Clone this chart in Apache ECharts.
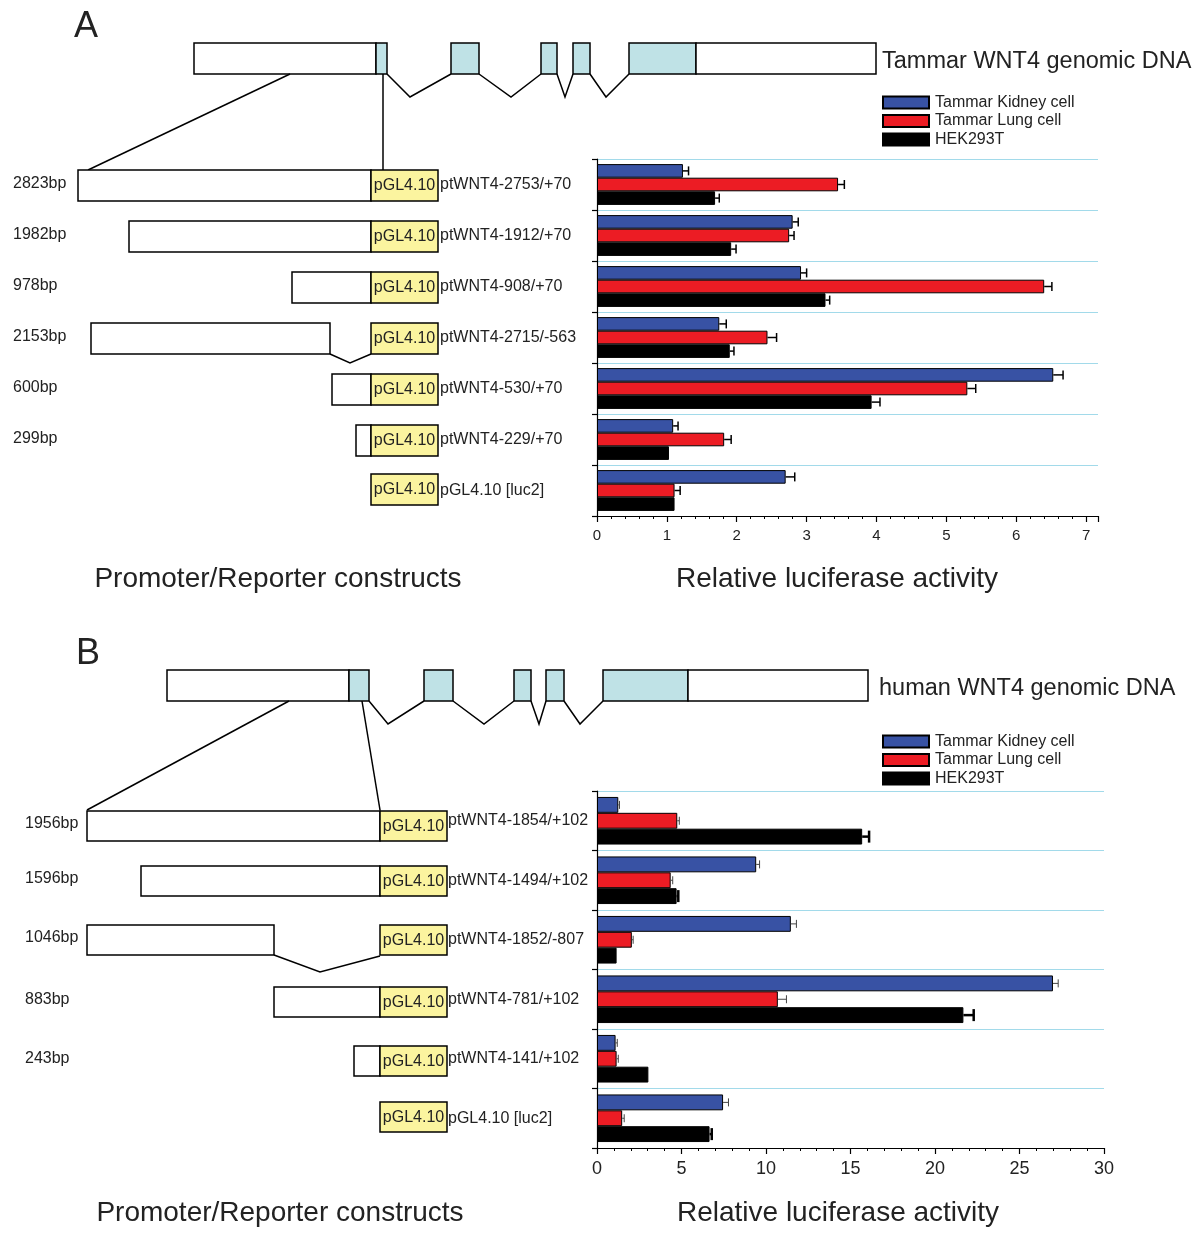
<!DOCTYPE html>
<html><head><meta charset="utf-8">
<script src="https://cdn.jsdelivr.net/npm/echarts@6/dist/echarts.min.js"></script>
<style>html,body{margin:0;padding:0;background:#fff}#c{width:1200px;height:1259px}</style>
</head><body><div id="c"></div>
<script>
// ---------- DATA ----------
const seriesNames = ['Tammar Kidney cell', 'Tammar Lung cell', 'HEK293T'];

const categoriesA = ['ptWNT4-2753/+70','ptWNT4-1912/+70','ptWNT4-908/+70','ptWNT4-2715/-563','ptWNT4-530/+70','ptWNT4-229/+70','pGL4.10 [luc2]'];
const kidneyA    = [1.23, 2.80, 2.92, 1.75, 6.53, 1.09, 2.70];
const kidneyErrA = [0.08, 0.08, 0.08, 0.10, 0.14, 0.07, 0.13];
const lungA      = [3.45, 2.75, 6.40, 2.44, 5.30, 1.82, 1.11];
const lungErrA   = [0.09, 0.07, 0.11, 0.13, 0.12, 0.10, 0.08];
const hekA       = [1.69, 1.92, 3.27, 1.90, 3.93, 1.03, 1.11];
const hekErrA    = [0.06, 0.07, 0.06, 0.06, 0.12, 0, 0];
const xTicksA    = [0, 1, 2, 3, 4, 5, 6, 7];
const bpLabelsA  = ['2823bp','1982bp','978bp','2153bp','600bp','299bp'];

const categoriesB = ['ptWNT4-1854/+102','ptWNT4-1494/+102','ptWNT4-1852/-807','ptWNT4-781/+102','ptWNT4-141/+102','pGL4.10 [luc2]'];
const kidneyB    = [1.26, 9.42, 11.47, 26.98, 1.10, 7.46];
const kidneyErrB = [0.07, 0.20, 0.33, 0.31, 0.10, 0.32];
const lungB      = [4.75, 4.36, 2.06, 10.70, 1.16, 1.49];
const lungErrB   = [0.12, 0.12, 0.08, 0.51, 0.10, 0.12];
const hekB       = [15.69, 4.71, 1.16, 21.68, 3.04, 6.66];
const hekErrB    = [0.41, 0.10, 0, 0.61, 0, 0.13];
const xTicksB    = [0, 5, 10, 15, 20, 25, 30];
const bpLabelsB  = ['1956bp','1596bp','1046bp','883bp','243bp'];

// ---------- STYLE / LAYOUT ----------
const FONT = "'Liberation Sans', Arial, Helvetica, sans-serif";
const colors = ['#3852a4', '#ec1c24', '#000000'];
const CYAN = '#bfe2e6';
const YELLOW = '#fbf49f';
const GRIDLINE = '#a2daea';
const BAND_FILL = 0.8; // 1 - barCategoryGap

function errSeries(vals, errs, idx, axisIdx, lw, color, cap) {
  const data = [];
  vals.forEach((v, i) => { if (errs[i] > 0) data.push([v, i, v + errs[i]]); });
  return {
    type: 'custom', xAxisIndex: axisIdx, yAxisIndex: axisIdx, silent: true, z: 10,
    data: data, encode: { x: [0, 2], y: 1 },
    renderItem(params, api) {
      const cat = api.value(1);
      const p0 = api.coord([api.value(0), cat]);
      const p1 = api.coord([api.value(2), cat]);
      const band = api.size([0, 1])[1];
      const bw = band * BAND_FILL / 3;
      const y = p0[1] + (idx - 1) * bw;
      const h = cap / 2;
      return { type: 'group', children: [
        { type: 'line', shape: { x1: p0[0], y1: y, x2: p1[0], y2: y }, style: { stroke: color, lineWidth: lw } },
        { type: 'line', shape: { x1: p1[0], y1: y - h, x2: p1[0], y2: y + h }, style: { stroke: color, lineWidth: lw } }
      ]};
    }
  };
}

function barSeries(name, vals, idx, axisIdx) {
  return {
    type: 'bar', name: name, xAxisIndex: axisIdx, yAxisIndex: axisIdx, data: vals,
    barCategoryGap: '20%', barGap: '0%',
    itemStyle: { color: colors[idx], borderColor: '#000', borderWidth: 1 },
    emphasis: { disabled: true }
  };
}

function xAxisCfg(gridIdx, ticks, max, labelSize, margin) {
  const interval = ticks[1] - ticks[0];
  return {
    type: 'value', gridIndex: gridIdx, min: ticks[0], max: max, interval: interval,
    axisLine: { show: true, lineStyle: { color: '#000', width: 1.2 } },
    axisTick: { show: true, length: 6, lineStyle: { color: '#000', width: 1.2 } },
    minorTick: { show: true, splitNumber: 5, length: 3, lineStyle: { color: '#000', width: 1 } },
    splitLine: { show: false },
    axisLabel: { fontFamily: FONT, fontSize: labelSize, color: '#222', margin: margin, showMaxLabel: ticks[ticks.length - 1] === max,
      formatter: v => (ticks.indexOf(v) >= 0 ? String(v) : '') }
  };
}

function yAxisCfg(gridIdx, cats, margin) {
  return {
    type: 'category', gridIndex: gridIdx, data: cats, inverse: true,
    axisLine: { show: true, lineStyle: { color: '#000', width: 1.2 } },
    axisTick: { show: true, length: 5, lineStyle: { color: '#000', width: 1.2 } },
    splitLine: { show: true, lineStyle: { color: GRIDLINE, width: 1.2 } },
    axisLabel: { align: 'left', margin: margin, fontFamily: FONT, fontSize: 16, color: '#222' }
  };
}

// ---------- DIAGRAM GRAPHICS ----------
const g = [];
function txt(x, y, s, size, align, extra) {
  g.push(Object.assign({ type: 'text', x: x, y: y, silent: true,
    style: { text: s, fontFamily: FONT, fontSize: size, fill: '#222', align: align || 'left', verticalAlign: 'middle' } }, extra || {}));
}
function rect(x1, y1, x2, y2, fill) {
  g.push({ type: 'rect', silent: true, shape: { x: x1, y: y1, width: x2 - x1, height: y2 - y1 },
    style: { fill: fill, stroke: '#000', lineWidth: 1.5 } });
}
function poly(pts, lw) {
  g.push({ type: 'polyline', silent: true, shape: { points: pts }, style: { stroke: '#000', lineWidth: lw || 1.5, fill: null } });
}

function gene(top, bot, vy, leftW, exons, rightW) {
  rect(leftW[0], top, leftW[1], bot, '#fff');
  exons.forEach((e, i) => {
    rect(e[0], top, e[1], bot, CYAN);
    if (i < exons.length - 1) {
      const nx = exons[i + 1][0];
      poly([[e[1], bot], [e[2], vy], [nx, bot]]);
    }
  });
  rect(rightW[0], top, rightW[1], bot, '#fff');
}

// Panel A
txt(74, 27, 'A', 36, 'left');
gene(43, 74, 97, [194, 376], [[376, 387, 410], [451, 479, 511], [541, 557, 565], [573, 590, 606], [629, 696]], [696, 876]);
txt(882, 62, 'Tammar WNT4 genomic DNA', 23.5, 'left');
poly([[290, 74], [88, 170]]);
poly([[383, 74], [383, 170]]);

const rowsA = [ // [whiteLeft, whiteRight, top]
  [78, 371, 170], [129, 371, 221], [292, 371, 272], [91, 330, 323], [332, 371, 374], [356, 371, 425], [null, null, 474]
];
rowsA.forEach((r, i) => {
  if (r[0] !== null) rect(r[0], r[2], r[1], r[2] + 31, '#fff');
  if (r[1] !== null && r[1] < 371) poly([[r[1], r[2] + 31], [350, r[2] + 40], [371, r[2] + 31]]);
  rect(371, r[2], 438, r[2] + 31, YELLOW);
  txt(404.5, r[2] + 16, 'pGL4.10', 16, 'center');
  if (i < bpLabelsA.length) txt(13, r[2] + 14, bpLabelsA[i], 16, 'left');
});
txt(278, 579, 'Promoter/Reporter constructs', 28, 'center');
txt(837, 579, 'Relative luciferase activity', 28, 'center');

// Panel B
txt(76, 654, 'B', 36, 'left');
gene(670, 701, 724, [167, 349], [[349, 369, 388], [424, 453, 484], [514, 531, 539], [546, 564, 580], [603, 688]], [688, 868]);
txt(879, 689, 'human WNT4 genomic DNA', 23.5, 'left');
poly([[289, 701], [87, 810]]);
poly([[362, 701], [380, 810]]);

const rowsB = [
  [87, 380, 811], [141, 380, 866], [87, 274, 925], [274, 380, 987], [354, 380, 1046], [null, null, 1102]
];
rowsB.forEach((r, i) => {
  if (r[0] !== null) rect(r[0], r[2], r[1], r[2] + 30, '#fff');
  if (r[1] !== null && r[1] < 380) poly([[r[1], r[2] + 30], [320, r[2] + 47], [380, r[2] + 31]]);
  rect(380, r[2], 447, r[2] + 30, YELLOW);
  txt(413.5, r[2] + 15.5, 'pGL4.10', 16, 'center');
  if (i < bpLabelsB.length) txt(25, r[2] + 13, bpLabelsB[i], 16, 'left');
});
txt(280, 1213, 'Promoter/Reporter constructs', 28, 'center');
txt(838, 1213, 'Relative luciferase activity', 28, 'center');

// ---------- CHART ----------
const legendCfg = (top) => ({
  data: seriesNames, orient: 'vertical', left: 882, top: top, padding: 0,
  itemWidth: 46, itemHeight: 12, itemGap: 2.5, selectedMode: false,
  icon: 'rect',
  textStyle: { fontFamily: FONT, fontSize: 16, color: '#222', padding: [0, 0, 0, 1] }
});

const option = {
  animation: false,
  backgroundColor: '#fff',
  legend: [legendCfg(94.5), legendCfg(733.5)],
  grid: [
    { left: 597, top: 159, width: 501, height: 357, containLabel: false },
    { left: 597, top: 791, width: 507, height: 357, containLabel: false }
  ],
  xAxis: [xAxisCfg(0, xTicksA, 7.17, 15, 12), xAxisCfg(1, xTicksB, 30, 18, 12)],
  yAxis: [yAxisCfg(0, categoriesA, 157), yAxisCfg(1, categoriesB, 149)],
  series: [
    barSeries(seriesNames[0], kidneyA, 0, 0),
    barSeries(seriesNames[1], lungA, 1, 0),
    barSeries(seriesNames[2], hekA, 2, 0),
    errSeries(kidneyA, kidneyErrA, 0, 0, 1.5, '#000', 9),
    errSeries(lungA, lungErrA, 1, 0, 1.5, '#000', 9),
    errSeries(hekA, hekErrA, 2, 0, 1.5, '#000', 9),
    barSeries(seriesNames[0], kidneyB, 0, 1),
    barSeries(seriesNames[1], lungB, 1, 1),
    barSeries(seriesNames[2], hekB, 2, 1),
    errSeries(kidneyB, kidneyErrB, 0, 1, 1, '#444', 8),
    errSeries(lungB, lungErrB, 1, 1, 1, '#444', 8),
    errSeries(hekB, hekErrB, 2, 1, 2.5, '#000', 12)
  ],
  graphic: g
};

const chart = echarts.init(document.getElementById('c'), null, { renderer: 'canvas' });
chart.setOption(option);
</script>
</body></html>
